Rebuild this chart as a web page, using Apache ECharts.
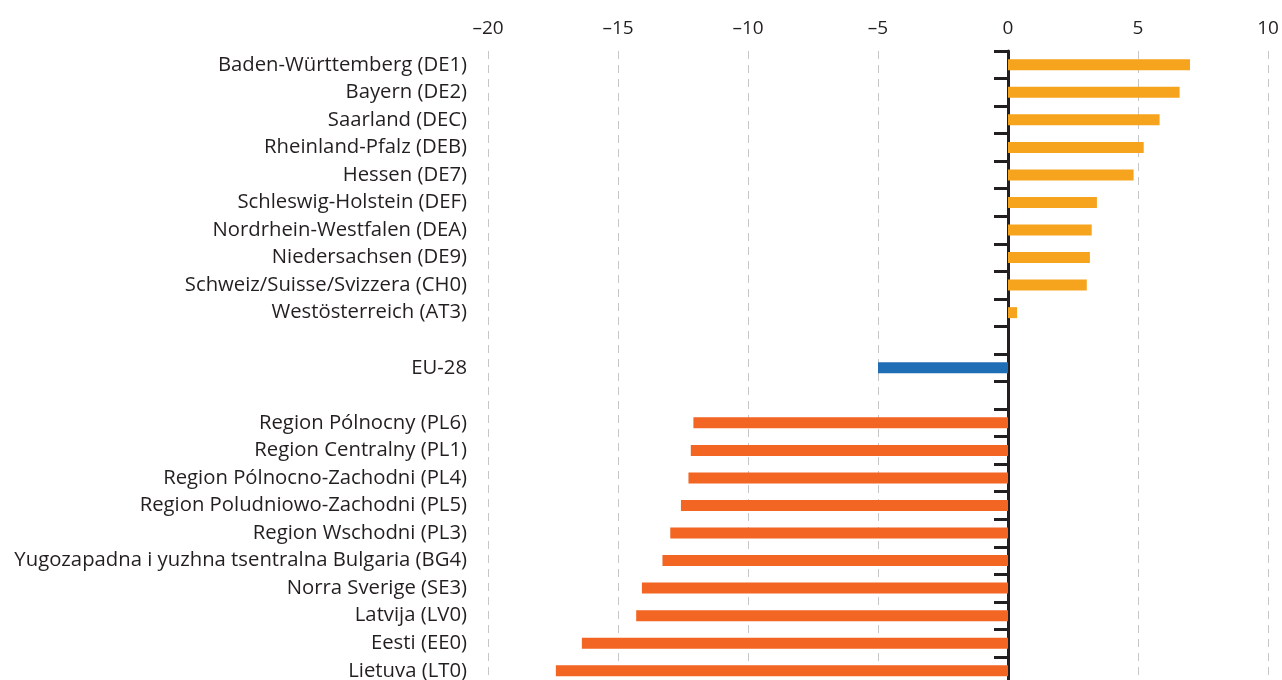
<!DOCTYPE html>
<html>
<head>
<meta charset="utf-8">
<script src="https://cdn.jsdelivr.net/npm/echarts@6/dist/echarts.min.js"></script>
<style>
  html, body { margin: 0; padding: 0; background: #ffffff; }
  #chart { width: 1282px; height: 680px; }
</style>
</head>
<body>
<div id="chart"></div>
<script>
// Regions, top to bottom; empty strings are spacer rows between groups
const regions = [
  'Baden-Württemberg (DE1)',
  'Bayern (DE2)',
  'Saarland (DEC)',
  'Rheinland-Pfalz (DEB)',
  'Hessen (DE7)',
  'Schleswig-Holstein (DEF)',
  'Nordrhein-Westfalen (DEA)',
  'Niedersachsen (DE9)',
  'Schweiz/Suisse/Svizzera (CH0)',
  'Westösterreich (AT3)',
  '',
  'EU-28',
  ' ',
  'Region Pólnocny (PL6)',
  'Region Centralny (PL1)',
  'Region Pólnocno-Zachodni (PL4)',
  'Region Poludniowo-Zachodni (PL5)',
  'Region Wschodni (PL3)',
  'Yugozapadna i yuzhna tsentralna Bulgaria (BG4)',
  'Norra Sverige (SE3)',
  'Latvija (LV0)',
  'Eesti (EE0)',
  'Lietuva (LT0)'
];

// Value per region (null for spacer rows)
const values = [
  7.0, 6.6, 5.83, 5.22, 4.83, 3.42, 3.22, 3.15, 3.03, 0.35,
  null,
  -5.0,
  null,
  -12.1, -12.2, -12.29, -12.58, -12.99, -13.29, -14.08, -14.3, -16.39, -17.39
];

// Group of each row: top regions, EU average, bottom regions
const groups = [
  'top', 'top', 'top', 'top', 'top', 'top', 'top', 'top', 'top', 'top',
  null, 'eu', null,
  'bottom', 'bottom', 'bottom', 'bottom', 'bottom', 'bottom', 'bottom', 'bottom', 'bottom', 'bottom'
];

const groupColors = { top: '#f6a31d', eu: '#1f6db5', bottom: '#f26522' };

const xTicks = { min: -20, max: 10, step: 5 };

const textColor = '#231f20';
const font = '"Open Sans", "Noto Sans", sans-serif';

const barData = values.map((v, i) => ({
  value: v,
  itemStyle: { color: groups[i] ? groupColors[groups[i]] : 'transparent' }
}));

const chart = echarts.init(document.getElementById('chart'), null, { renderer: 'canvas' });

chart.setOption({
  animation: false,
  backgroundColor: '#ffffff',
  grid: {
    left: 488, right: 14, top: 51, height: 633.5,
    containLabel: false,
    outerBoundsMode: 'none'
  },
  xAxis: {
    type: 'value',
    position: 'top',
    min: xTicks.min,
    max: xTicks.max,
    interval: xTicks.step,
    axisLine: { show: false },
    axisTick: { show: false },
    axisLabel: {
      color: textColor,
      fontFamily: font,
      fontSize: 19,
      margin: 13,
      formatter: v => String(v).replace('-', '\u2013')
    },
    splitLine: {
      show: true,
      lineStyle: { color: '#c6c6c6', width: 1, type: [8, 6] }
    }
  },
  yAxis: [
    {
      type: 'category',
      data: regions,
      inverse: true,
      axisLine: { onZero: true, lineStyle: { color: textColor, width: 3 } },
      axisTick: { show: true, length: 14, lineStyle: { color: textColor, width: 3 } },
      axisLabel: { show: false },
      splitLine: { show: false }
    },
    {
      type: 'category',
      data: regions,
      inverse: true,
      position: 'left',
      axisLine: { show: false, onZero: false },
      axisTick: { show: false },
      axisLabel: {
        color: textColor,
        fontFamily: font,
        fontSize: 20.3,
        margin: 21
      },
      splitLine: { show: false }
    }
  ],
  series: [
    {
      type: 'bar',
      yAxisIndex: 0,
      data: barData,
      barWidth: 11
    }
  ]
});
</script>
</body>
</html>
